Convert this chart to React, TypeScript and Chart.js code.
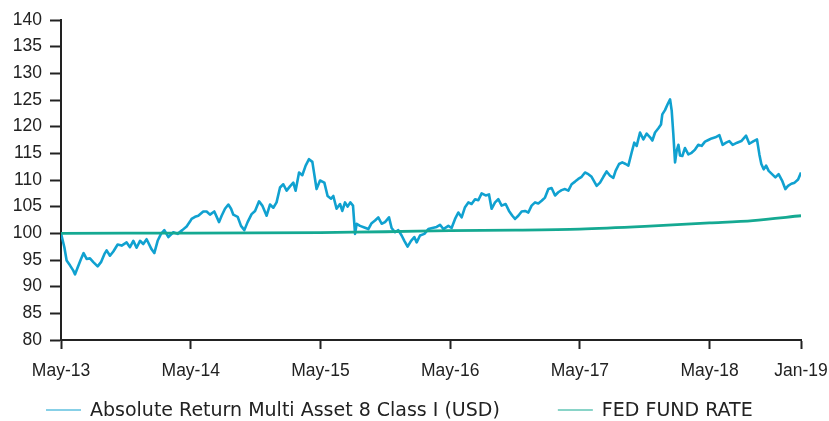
import React, { useEffect, useRef } from "react";
import { Chart, registerables } from "chart.js";

Chart.register(...registerables);

const seriesNames = ["Absolute Return Multi Asset 8 Class I (USD)", "FED FUND RATE"];

const tickMonths = [0, 12, 24, 36, 48, 60, 68.45];
const tickLabels = ["May-13", "May-14", "May-15", "May-16", "May-17", "May-18", "Jan-19"];

// months since May-13
const fundMonths = [
  0, 0.31, 0.52, 0.83, 1.14, 1.3, 1.54, 1.85, 2.09, 2.37, 2.68, 2.99, 3.39, 3.7, 4.01, 4.22, 4.53, 4.84, 5.24, 5.61,
  6.07, 6.38, 6.69, 6.99, 7.31, 7.61, 7.92, 8.38, 8.63, 8.94, 9.25, 9.56, 9.93, 10.39, 10.79, 11.22, 11.62, 11.93,
  12.08, 12.4, 12.7, 13.16, 13.47, 13.78, 14.18, 14.62, 14.86, 15.17, 15.48, 15.73, 15.94, 16.34, 16.65, 16.96,
  17.26, 17.63, 17.95, 18.32, 18.62, 19.02, 19.33, 19.64, 19.94, 20.26, 20.56, 20.87, 21.18, 21.49, 21.7, 22.02,
  22.32, 22.63, 22.94, 23.25, 23.64, 23.96,
  24.36, 24.66, 24.98, 25.19, 25.49, 25.81, 26.02, 26.27, 26.51, 26.76, 27.01, 27.2, 27.35, 27.66, 28.06, 28.43,
  28.73, 29.05, 29.35, 29.66, 29.97, 30.34, 30.58, 30.9, 31.2, 31.51, 31.76, 32.06, 32.38, 32.68, 32.9, 33.21,
  33.61, 33.98, 34.35, 34.75, 35.06, 35.37, 35.83,
  36.13, 36.45, 36.75, 37.06, 37.37, 37.68, 37.98, 38.3, 38.6, 38.91, 39.28, 39.59, 39.83, 40.15, 40.45, 40.76,
  41.13, 41.44, 41.75, 42.0, 42.3, 42.61, 42.92, 43.23, 43.53, 43.85, 44.15, 44.46, 44.77, 45.08, 45.38, 45.7,
  46.0, 46.31, 46.62, 46.93, 47.23, 47.55, 47.85,
  48.16, 48.47, 48.78, 49.08, 49.55, 49.86, 50.17, 50.47, 50.79, 51.09, 51.3, 51.62, 51.92, 52.23, 52.48, 52.78,
  53.03, 53.25, 53.56, 53.87, 54.17, 54.49, 54.7, 54.95, 55.26, 55.5, 55.62, 55.87, 56.11, 56.34, 56.49, 56.64,
  56.8, 56.95, 57.11, 57.26, 57.47, 57.72, 58.03, 58.33, 58.65, 58.95, 59.26, 59.57, 59.88,
  60.18, 60.53, 60.9, 61.2, 61.52, 61.82, 62.13, 62.54, 62.93, 63.37, 63.67, 64.07, 64.38, 64.6, 64.78, 65.0,
  65.22, 65.46, 65.77, 66.08, 66.38, 66.7, 67.0, 67.25, 67.56, 67.86, 68.18, 68.45,
];

const fundValues = [
  100, 97.4, 94.9, 94.0, 93.0, 92.3, 93.6, 95.2, 96.3, 95.2, 95.3, 94.6, 93.8, 94.6, 96.1, 96.8, 95.8, 96.6, 97.9, 97.7,
  98.3, 97.4, 98.6, 97.3, 98.6, 98.0, 98.9, 97.0, 96.3, 98.6, 99.9, 100.6, 99.3, 100.2, 99.9, 100.6, 101.3, 102.2,
  102.7, 103.1, 103.3, 104.1, 104.1, 103.5, 104.1, 102.1, 103.3, 104.6, 105.4, 104.6, 103.5, 103.1, 101.4, 100.6,
  102.1, 103.6, 104.2, 106.0, 105.2, 103.3, 105.4, 104.8, 105.8, 108.6, 109.2, 108.0, 108.8, 109.5, 108.0, 111.4,
  110.9, 112.7, 113.9, 113.4, 108.3, 109.9,
  109.5, 107.0, 106.5, 107.0, 104.6, 105.5, 104.2, 105.8, 105.0, 105.8, 105.2, 99.9, 101.8, 101.4, 101.1, 100.8,
  101.9, 102.4, 103.0, 101.8, 102.1, 103.0, 101.0, 100.2, 100.6, 99.6, 98.6, 97.5, 98.6, 99.3, 98.3, 99.6,
  99.9, 100.8, 101.0, 101.2, 101.6, 100.8, 101.4,
  101.0, 102.7, 103.9, 103.0, 104.9, 105.8, 105.5, 106.4, 106.2, 107.5, 107.1, 107.3, 104.6, 105.8, 106.4, 105.2,
  105.5, 104.2, 103.3, 102.7, 103.3, 104.1, 104.2, 103.9, 105.2, 105.8, 105.6, 106.1, 106.7, 108.3, 108.5, 107.1,
  107.7, 108.1, 108.3, 108.0, 109.2, 109.7, 110.2,
  110.6, 111.4, 111.1, 110.6, 108.9, 109.5, 110.6, 111.6, 110.8, 110.4, 111.7, 113.0, 113.3, 113.0, 112.7, 115.1,
  117.0, 116.4, 118.9, 117.6, 118.7, 118.0, 117.4, 118.9, 119.7, 120.4, 122.3, 123.1, 124.2, 125.1, 123.0, 118.6,
  113.3, 115.5, 116.6, 114.6, 114.5, 116.0, 114.8, 115.1, 115.7, 116.6, 116.4, 117.2, 117.5,
  117.8, 118.0, 118.4, 116.6, 117.0, 117.3, 116.6, 117.0, 117.3, 118.3, 116.8, 117.3, 117.6, 114.8, 113.0, 112.0,
  112.7, 111.7, 111.1, 110.5, 111.1, 109.9, 108.3, 108.9, 109.3, 109.5, 110.1, 111.4,
];

const fedMonths = [0, 12, 24, 30, 36, 42, 48, 54, 60, 64, 68.45];
const fedValues = [100, 100.05, 100.15, 100.3, 100.5, 100.6, 100.8, 101.3, 101.95, 102.4, 103.3];

const BLUE = "#10a1d0";
const TEAL = "#15a992";
const AXIS = "#222222";
const TICK_FONT = "'Liberation Sans', Arial, Helvetica, sans-serif";
const LEGEND_FONT = "'DejaVu Sans', 'Liberation Sans', sans-serif";

const legendPlugin = {
  id: "customLegend",
  afterDraw(chart: any) {
    const ctx = chart.ctx;
    ctx.save();
    ctx.font = `19px ${LEGEND_FONT}`;
    ctx.textBaseline = "middle";
    ctx.textAlign = "left";
    let x = 46;
    const y = 410;
    chart.data.datasets.forEach((ds: any) => {
      ctx.strokeStyle = ds.borderColor;
      ctx.lineWidth = 1.2;
      ctx.beginPath();
      ctx.moveTo(x, y);
      ctx.lineTo(x + 35, y);
      ctx.stroke();
      ctx.fillStyle = "#222222";
      const tx = x + 44;
      ctx.fillText(ds.label, tx, y + 1);
      x = tx + ctx.measureText(ds.label).width + 58;
    });
    ctx.restore();
  },
};

export default function App() {
  const ref = useRef<HTMLCanvasElement | null>(null);
  useEffect(() => {
    if (!ref.current) return;
    const chart = new Chart(ref.current, {
      type: "line",
      data: {
        datasets: [
          {
            label: seriesNames[0],
            data: fundMonths.map((m, i) => ({ x: m, y: fundValues[i] })),
            borderColor: BLUE,
            backgroundColor: BLUE,
            borderWidth: 2.6,
            borderJoinStyle: "round",
            pointRadius: 0,
            tension: 0,
            order: 1,
          },
          {
            label: seriesNames[1],
            data: fedMonths.map((m, i) => ({ x: m, y: fedValues[i] })),
            borderColor: TEAL,
            backgroundColor: TEAL,
            borderWidth: 2.8,
            pointRadius: 0,
            tension: 0.3,
            order: 0,
          },
        ],
      },
      options: {
        animation: false,
        responsive: true,
        maintainAspectRatio: false,
        layout: { padding: { top: 20, right: 28, bottom: 39, left: 0 } },
        plugins: {
          legend: { display: false },
          tooltip: { enabled: false },
        },
        scales: {
          x: {
            type: "linear",
            min: 0,
            max: 68.45,
            afterBuildTicks: (scale: any) => {
              scale.ticks = tickMonths.map((v) => ({ value: v }));
            },
            afterFit: (scale: any) => {
              scale.height = 42;
              scale.paddingLeft = 0;
              scale.paddingRight = 0;
            },
            ticks: {
              autoSkip: false,
              maxRotation: 0,
              padding: 12,
              color: "#222222",
              font: { family: TICK_FONT, size: 17.5 },
              callback: (_v: any, i: number) => tickLabels[i],
            },
            grid: {
              drawOnChartArea: false,
              drawTicks: true,
              tickLength: 9,
              tickWidth: 2,
              tickColor: AXIS,
              color: AXIS,
            },
            border: { display: true, color: AXIS, width: 2 },
          },
          y: {
            min: 80,
            max: 140,
            afterFit: (scale: any) => {
              scale.width = 61;
              scale.paddingTop = 0;
              scale.paddingBottom = 0;
            },
            ticks: {
              stepSize: 5,
              padding: 8,
              color: "#222222",
              font: { family: TICK_FONT, size: 17.5 },
            },
            grid: {
              drawOnChartArea: false,
              drawTicks: true,
              tickLength: 11,
              tickWidth: 2,
              tickColor: AXIS,
              color: AXIS,
            },
            border: { display: true, color: AXIS, width: 2 },
          },
        },
      },
      plugins: [legendPlugin],
    });
    return () => chart.destroy();
  }, []);

  return (
    <div style={{ position: "fixed", left: 0, top: 0, width: 829, height: 421, background: "#ffffff" }}>
      <canvas ref={ref} />
    </div>
  );
}
